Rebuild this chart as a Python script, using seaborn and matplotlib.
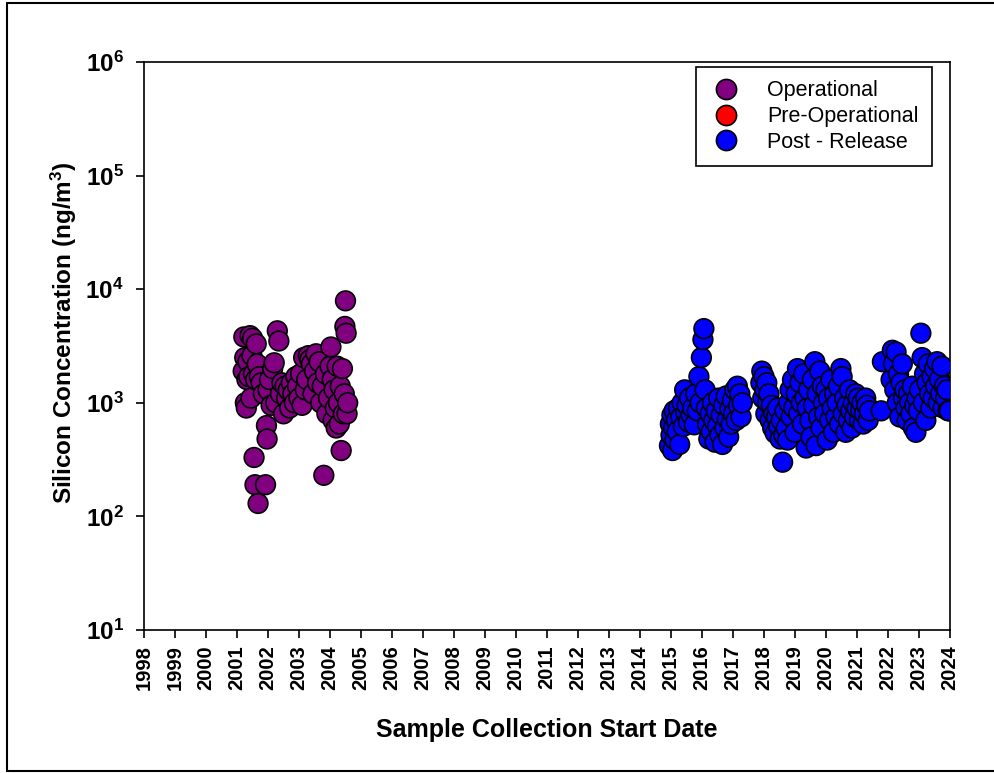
import matplotlib
matplotlib.use("Agg")
import matplotlib.pyplot as plt
from matplotlib.lines import Line2D
from matplotlib.ticker import FixedLocator, FixedFormatter, NullLocator
import seaborn as sns
import pandas as pd

# ---------------- data ----------------
categories = ["Operational", "Pre-Operational", "Post - Release"]
colors = ["#800080", "#FF0000", "#0000FF"]

oper_years = [2001.20, 2001.22, 2001.25, 2001.27, 2001.30, 2001.32, 2001.35, 2001.38,
              2001.42, 2001.45, 2001.48, 2001.50, 2001.53, 2001.55, 2001.58, 2001.60,
              2001.62, 2001.65, 2001.68, 2001.72, 2001.78, 2001.85, 2001.92, 2001.95,
              2001.97, 2002.00, 2002.05, 2002.10, 2002.15, 2002.20, 2002.25, 2002.30,
              2002.35, 2002.40, 2002.45, 2002.50, 2002.55, 2002.60, 2002.65, 2002.70,
              2002.75, 2002.80, 2002.85, 2002.90, 2002.95, 2003.00, 2003.05, 2003.10,
              2003.15, 2003.20, 2003.25, 2003.30, 2003.35, 2003.40, 2003.45, 2003.50,
              2003.55, 2003.60, 2003.65, 2003.70, 2003.75, 2003.80, 2003.85, 2003.90,
              2003.95, 2004.00, 2004.03, 2004.07, 2004.10, 2004.13, 2004.17, 2004.20,
              2004.23, 2004.27, 2004.30, 2004.33, 2004.36, 2004.40, 2004.43, 2004.46,
              2004.48, 2004.50, 2004.52, 2004.55, 2004.57]
oper_vals = [1900, 3800, 2500, 1000, 900, 1600, 2300, 1700,
             3900, 1100, 2600, 3700, 1800, 330, 190, 1600,
             3300, 2200, 130, 1700, 1500, 1200, 190, 630,
             480, 1300, 1600, 950, 2000, 2250, 1000, 4300,
             3500, 1200, 1500, 800, 1400, 1100, 1300, 900,
             1500, 1200, 1000, 1700, 1400, 1100, 1800, 950,
             2500, 1300, 1600, 2600, 2400, 2200, 1200, 1900,
             2700, 1500, 2300, 1000, 1400, 230, 1800, 800,
             1100, 2100, 3100, 1600, 700, 1300, 900, 600,
             2100, 1000, 650, 1400, 380, 2000, 800, 1200,
             4700, 7900, 4100, 800, 1000]

pre_years = []
pre_vals = []

post_years = [2014.95, 2014.98, 2015.00, 2015.03, 2015.05, 2015.08, 2015.10, 2015.13,
              2015.17, 2015.20, 2015.24, 2015.28, 2015.32, 2015.36, 2015.40, 2015.44,
              2015.48, 2015.52, 2015.56, 2015.60, 2015.65, 2015.70, 2015.75, 2015.80,
              2015.85, 2015.90, 2015.94, 2015.98,
              2016.03, 2016.06, 2016.10, 2016.14, 2016.18, 2016.22, 2016.26, 2016.30,
              2016.34, 2016.38, 2016.42, 2016.46, 2016.50, 2016.54, 2016.58, 2016.62,
              2016.66, 2016.70, 2016.74, 2016.78, 2016.82, 2016.86, 2016.90, 2016.94,
              2016.98,
              2017.02, 2017.06, 2017.10, 2017.14, 2017.18, 2017.22, 2017.26, 2017.30,
              2017.90, 2017.93, 2017.96,
              2018.00, 2018.03, 2018.06, 2018.09, 2018.12, 2018.16, 2018.20, 2018.24,
              2018.28, 2018.32, 2018.36, 2018.40, 2018.44, 2018.48, 2018.52, 2018.56,
              2018.60, 2018.64, 2018.68, 2018.72, 2018.76, 2018.80, 2018.84, 2018.88,
              2018.92, 2018.96,
              2019.00, 2019.04, 2019.08, 2019.12, 2019.16, 2019.20, 2019.24, 2019.28,
              2019.32, 2019.36, 2019.40, 2019.44, 2019.48, 2019.52, 2019.56, 2019.60,
              2019.64, 2019.68, 2019.72, 2019.76, 2019.80, 2019.84, 2019.88, 2019.92,
              2019.96,
              2020.00, 2020.04, 2020.08, 2020.12, 2020.16, 2020.20, 2020.24, 2020.28,
              2020.32, 2020.36, 2020.40, 2020.44, 2020.48, 2020.52, 2020.56, 2020.60,
              2020.64, 2020.68, 2020.72, 2020.76, 2020.80, 2020.84, 2020.88, 2020.92,
              2020.96,
              2021.00, 2021.04, 2021.08, 2021.12, 2021.16, 2021.20, 2021.24, 2021.28,
              2021.32, 2021.36, 2021.40, 2021.78, 2021.82,
              2022.10, 2022.14, 2022.18, 2022.22, 2022.26, 2022.30, 2022.34, 2022.38,
              2022.42, 2022.46, 2022.50, 2022.54, 2022.58, 2022.62, 2022.66, 2022.70,
              2022.74, 2022.78, 2022.82, 2022.86, 2022.90, 2022.94, 2022.98,
              2023.02, 2023.06, 2023.10, 2023.14, 2023.18, 2023.22, 2023.26, 2023.30,
              2023.34, 2023.38, 2023.42, 2023.46, 2023.50, 2023.54, 2023.58, 2023.62,
              2023.66, 2023.70, 2023.74, 2023.78, 2023.82, 2023.86, 2023.90, 2023.94,
              2023.98]
post_vals = [420, 650, 520, 780, 380, 600, 850, 470,
             700, 560, 900, 430, 750, 1000, 620, 1300,
             820, 950, 680, 1100, 780, 900, 640, 1200,
             850, 1700, 1000, 2500,
             3600, 4500, 1300, 900, 650, 480, 800, 560,
             1000, 700, 450, 850, 620, 1100, 520, 780,
             430, 950, 600, 1150, 720, 500, 880, 650,
             1050,
             800, 1300, 700, 1400, 950, 1200, 750, 1000,
             1500, 1900, 1100,
             1700, 1300, 800, 1500, 1000, 1200, 700, 950,
             600, 800, 540, 750, 900, 620, 480, 700,
             300, 520, 850, 600, 470, 1000, 1300, 750,
             1600, 900,
             550, 1200, 2000, 800, 1500, 1000, 650, 1800,
             1100, 400, 900, 1300, 700, 500, 1600, 950,
             2300, 420, 1200, 750, 1900, 600, 1400, 1000,
             800,
             1300, 470, 1100, 700, 1600, 900, 550, 1200,
             750, 1000, 1400, 650, 2000, 1700, 800, 1100,
             550, 950, 700, 1300, 850, 600, 1000, 750,
             1200,
             900, 1100, 700, 850, 1000, 650, 800, 1100,
             950, 700, 850, 850, 2300,
             1600, 2900, 2200, 1300, 2800, 1000, 1800, 750,
             1500, 2200, 1100, 1300, 900, 700, 1200, 1000,
             800, 1400, 600, 950, 550, 1100, 850,
             1300, 4100, 2500, 1000, 1800, 700, 1500, 2200,
             1200, 900, 1700, 1100, 2000, 1400, 2300, 1000,
             1600, 1200, 2100, 900, 1400, 1100, 1300, 850,
             850]

year_ticks = list(range(1998, 2025))
decade_ticks = [1e1, 1e2, 1e3, 1e4, 1e5, 1e6]
decade_labels = [r"$\mathbf{10^{1}}$", r"$\mathbf{10^{2}}$", r"$\mathbf{10^{3}}$",
                 r"$\mathbf{10^{4}}$", r"$\mathbf{10^{5}}$", r"$\mathbf{10^{6}}$"]

df = pd.DataFrame({
    "year": oper_years + pre_years + post_years,
    "value": oper_vals + pre_vals + post_vals,
    "period": [categories[0]] * len(oper_years) + [categories[1]] * len(pre_years)
              + [categories[2]] * len(post_years),
})

# ---------------- style ----------------
sns.set_style("white")
plt.rcParams["font.family"] = ["Liberation Sans", "DejaVu Sans"]
plt.rcParams["mathtext.fontset"] = "custom"
plt.rcParams["mathtext.rm"] = "Liberation Sans:bold"
plt.rcParams["mathtext.bf"] = "Liberation Sans:bold"
plt.rcParams["mathtext.default"] = "bf"
for key in ["text.color", "axes.labelcolor", "xtick.color", "ytick.color",
            "axes.edgecolor"]:
    plt.rcParams[key] = "black"

fig = plt.figure(figsize=(9.94, 7.73), dpi=100)
ax = fig.add_axes([144 / 994, 1 - 630 / 773, (950 - 144) / 994, (630 - 62) / 773])

sns.scatterplot(data=df, x="year", y="value", hue="period", hue_order=categories,
                palette=dict(zip(categories, colors)), s=200, edgecolor="black",
                linewidth=1.2, ax=ax, legend=True, zorder=3)

ax.set_yscale("log")
ax.set_xlim(1998, 2024)
ax.set_ylim(10, 1e6)
ax.yaxis.set_major_locator(FixedLocator(decade_ticks))
ax.yaxis.set_major_formatter(FixedFormatter(decade_labels))
ax.yaxis.set_minor_locator(NullLocator())
ax.set_xticks(year_ticks)
ax.set_xticklabels([str(y) for y in year_ticks], rotation=90, fontsize=14.5,
                   fontweight="bold")
for lab in ax.get_yticklabels():
    lab.set_fontsize(17.5)
ax.tick_params(axis="both", which="major", direction="out", length=6, width=1.2,
               color="black", bottom=True, left=True, top=False, right=False)
ax.tick_params(axis="x", pad=5)
ax.tick_params(axis="y", pad=8.5)
for sp in ax.spines.values():
    sp.set_visible(True)
    sp.set_color("black")
    sp.set_linewidth(1.2)

ax.set_xlabel("Sample Collection Start Date", fontsize=18, fontweight="bold")
ax.xaxis.set_label_coords(0.5, -(737 - 630) / 568)
ax.xaxis.label.set_va("baseline")
ax.set_ylabel(r"Silicon Concentration (ng/m$^{3}$)", fontsize=17.5,
              fontweight="bold")
ax.yaxis.set_label_coords(-(144 - 79) / 806, (630 - 333) / 568)

# legend
sns.move_legend(ax, "upper right", bbox_to_anchor=(932 / 994, 1 - 67 / 773),
                bbox_transform=fig.transFigure, borderaxespad=0, title=None,
                frameon=True, fontsize=15.5, labelspacing=0.22, handletextpad=1.1,
                borderpad=0.62, fancybox=False, edgecolor="black", framealpha=1,
                markerscale=1.0, handlelength=1.6)
leg = ax.get_legend()
leg.get_frame().set_linewidth(1.2)
for h in leg.legend_handles:
    try:
        h.set_sizes([220])
    except Exception:
        pass
    try:
        h.set_markersize(14.5)
        h.set_markeredgecolor("black")
    except Exception:
        pass
    try:
        h.set_edgecolor("black")
    except Exception:
        pass

# figure border (right side is outside the image)
fig.add_artist(Line2D([7 / 994, 7 / 994], [1 - 3 / 773, 1 - 771 / 773],
                      transform=fig.transFigure, color="black", lw=1.5))
fig.add_artist(Line2D([7 / 994, 1.0], [1 - 3 / 773, 1 - 3 / 773],
                      transform=fig.transFigure, color="black", lw=1.5))
fig.add_artist(Line2D([7 / 994, 1.0], [1 - 771 / 773, 1 - 771 / 773],
                      transform=fig.transFigure, color="black", lw=1.5))

fig.savefig("out.png", dpi=100)
